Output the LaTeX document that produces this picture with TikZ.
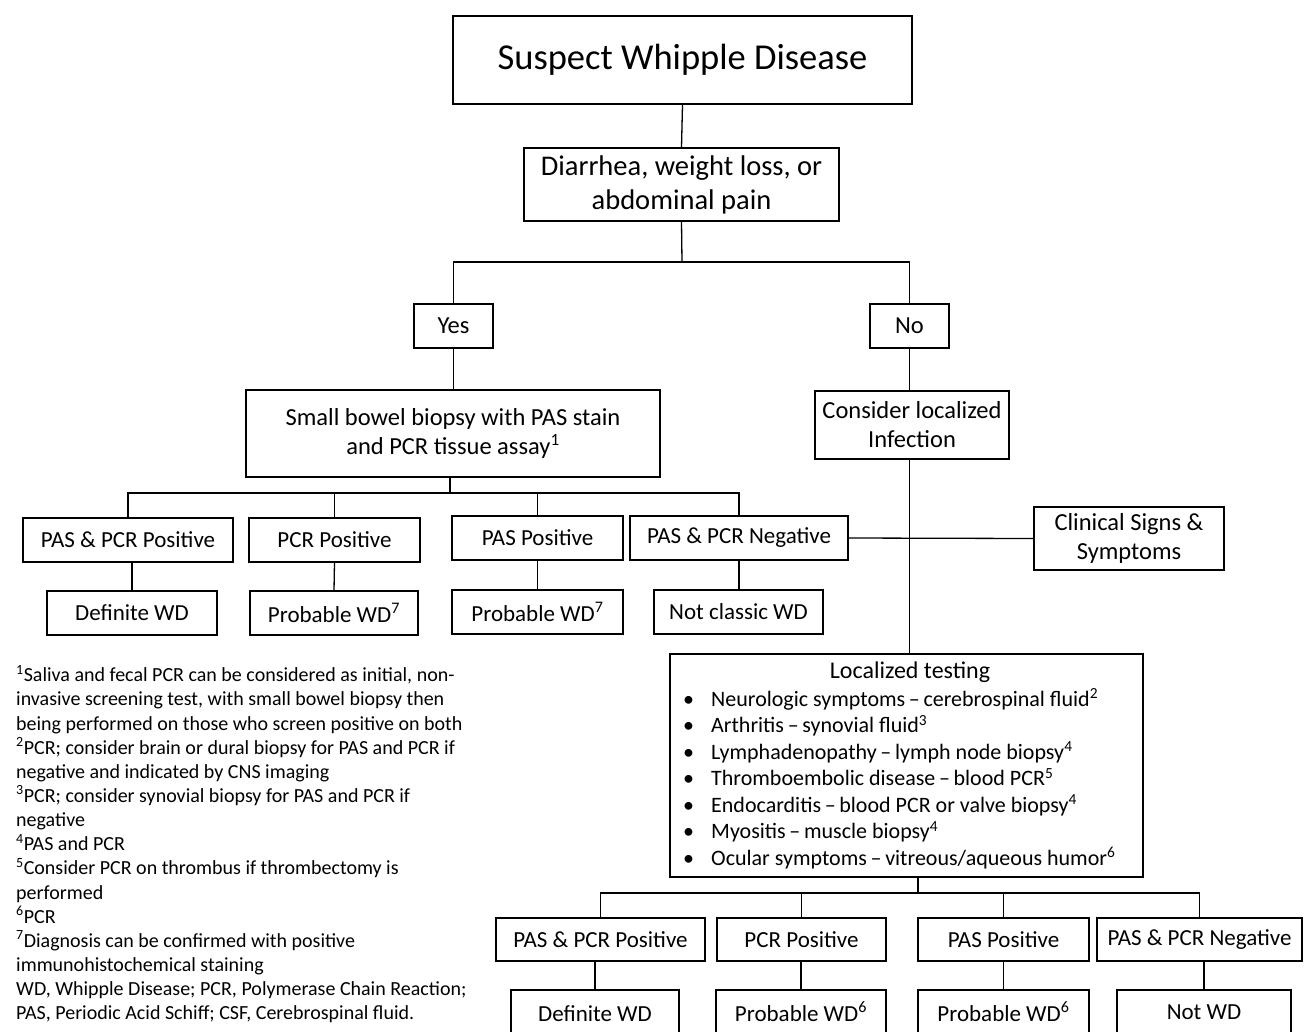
\documentclass[tikz,border=0pt]{standalone}
\usepackage{fontspec}
\setmainfont{Carlito}
\begin{document}
\begin{tikzpicture}[x=1pt,y=-1pt,
  box/.style={draw, line width=1.3pt, inner sep=0pt, align=center, font=\fontsize{23}{29}\selectfont},
  box2/.style={box, font=\fontsize{24.5}{29}\selectfont},
  lbl/.style={font=\fontsize{23}{26}\selectfont, inner sep=0pt},
  conn/.style={line width=1.3pt}]
\path[use as bounding box, clip] (0,0) rectangle (1304,1031);
\fill[white] (0,0) rectangle (1304,1031);
% top
\node[box, minimum width=459, minimum height=88, font=\fontsize{36.5}{40}\selectfont] (title) at (682.5,60) {Suspect Whipple Disease};
\node[box, minimum width=315, minimum height=73, font=\fontsize{28.5}{34}\selectfont] (diar) at (681.5,184.5) {Diarrhea, weight loss, or\\abdominal pain};
\node[box2, minimum width=79, minimum height=44] (yes) at (453.5,326) {Yes};
\node[box2, minimum width=79, minimum height=44] (no) at (909.5,326) {No};
\node[box2, minimum width=414, minimum height=87] (sb) at (453,433.5) {Small bowel biopsy with PAS stain\\and PCR tissue assay\textsuperscript{1}};
\node[box2, minimum width=194, minimum height=68] (cons) at (912,425) {Consider localized\\Infection};
% left branch
\node[box, minimum width=210, minimum height=44] (pp1) at (128,540) {PAS \& PCR Positive};
\node[box, minimum width=171, minimum height=44] (pcr1) at (334.5,540) {PCR Positive};
\node[box, minimum width=171, minimum height=44] (pas1) at (537.5,538) {PAS Positive};
\node[box, minimum width=218, minimum height=44] (neg1) at (739,538) {PAS \& PCR Negative};
\node[box, minimum width=170, minimum height=44] (def1) at (132,613) {Definite WD};
\node[box, minimum width=168, minimum height=44] (prob1) at (334,613) {Probable WD\textsuperscript{7}};
\node[box, minimum width=171, minimum height=44] (prob1b) at (537.5,612) {Probable WD\textsuperscript{7}};
\node[box, minimum width=169, minimum height=44] (notc) at (738.5,612) {Not classic WD};
\node[box2, minimum width=190, minimum height=63] (clin) at (1129,538.5) {Clinical Signs \&\\Symptoms};
% localized testing
\node[box, minimum width=473, minimum height=223] (loc) at (906.5,765.5) {};
\node[font=\fontsize{24}{26}\selectfont, inner sep=0pt, anchor=center] (loctitle) at (910,672) {Localized testing};
\node[font=\fontsize{22}{26.5}\selectfont, inner sep=0pt, anchor=north west, align=left] (loclist) at (683,688.5) {%
\makebox[28pt][l]{\textbullet}Neurologic symptoms\,–\,cerebrospinal fluid\textsuperscript{2}\\
\makebox[28pt][l]{\textbullet}Arthritis\,–\,synovial fluid\textsuperscript{3}\\
\makebox[28pt][l]{\textbullet}Lymphadenopathy\,–\,lymph node biopsy\textsuperscript{4}\\
\makebox[28pt][l]{\textbullet}Thromboembolic disease\,–\,blood PCR\textsuperscript{5}\\
\makebox[28pt][l]{\textbullet}Endocarditis\,–\,blood PCR or valve biopsy\textsuperscript{4}\\
\makebox[28pt][l]{\textbullet}Myositis\,–\,muscle biopsy\textsuperscript{4}\\
\makebox[28pt][l]{\textbullet}Ocular symptoms\,–\,vitreous/aqueous humor\textsuperscript{6}};
% right bottom
\node[box, minimum width=209, minimum height=43] (pp2) at (600.5,939.5) {PAS \& PCR Positive};
\node[box, minimum width=169, minimum height=43] (pcr2) at (801.5,939.5) {PCR Positive};
\node[box, minimum width=171, minimum height=43] (pas2) at (1003.5,939.5) {PAS Positive};
\node[box, minimum width=205, minimum height=43] (neg2) at (1199.5,939.5) {PAS \& PCR Negative};
\node[box, minimum width=168, minimum height=60] (def2) at (595,1020) {};
\node[box, minimum width=170, minimum height=60] (prob2) at (801,1020) {};
\node[box, minimum width=171, minimum height=60] (prob2b) at (1003.5,1020) {};
\node[box, minimum width=174, minimum height=60] (notwd) at (1204,1020) {};
\node[lbl] (def2t) at (595,1014) {Definite WD};
\node[lbl] (prob2t) at (801,1012) {Probable WD\textsuperscript{6}};
\node[lbl] (prob2bt) at (1003.5,1012) {Probable WD\textsuperscript{6}};
\node[lbl] (notwdt) at (1204,1012) {Not WD};
% footnotes
\node[font=\fontsize{20}{24.15}\selectfont, inner sep=0pt, anchor=north west, align=left] (notes) at (16,665) {%
\textsuperscript{1}Saliva and fecal PCR can be considered as initial, non-\\
invasive screening test, with small bowel biopsy then\\
being performed on those who screen positive on both\\
\textsuperscript{2}PCR; consider brain or dural biopsy for PAS and PCR if\\
negative and indicated by CNS imaging\\
\textsuperscript{3}PCR; consider synovial biopsy for PAS and PCR if\\
negative\\
\textsuperscript{4}PAS and PCR\\
\textsuperscript{5}Consider PCR on thrombus if thrombectomy is\\
performed\\
\textsuperscript{6}PCR\\
\textsuperscript{7}Diagnosis can be confirmed with positive\\
immunohistochemical staining\\
WD, Whipple Disease; PCR, Polymerase Chain Reaction;\\
PAS, Periodic Acid Schiff; CSF, Cerebrospinal fluid.};
% connectors
\coordinate (b0) at (682,262);
\coordinate (b1) at (450,493);
\coordinate (b2) at (918,893);
\draw[conn] (title.south) -- (diar.north);
\draw[conn] (diar.south) -- (b0);
\draw[conn] (yes.north) -- (yes.north |- b0) -- (no.north |- b0) -- (no.north);
\draw[conn] (yes.south) -- (sb.north -| yes.south);
\draw[conn] (no.south) -- (cons.north -| no.south);
\draw[conn] (sb.south -| b1) -- (b1);
\draw[conn] (pp1.north) -- (pp1.north |- b1) -- (neg1.north |- b1) -- (neg1.north);
\draw[conn] (pcr1.north) -- (pcr1.north |- b1);
\draw[conn] (pas1.north) -- (pas1.north |- b1);
\draw[conn] (pp1.south -| def1.north) -- (def1.north);
\draw[conn] (pcr1.south) -- (prob1.north);
\draw[conn] (pas1.south) -- (prob1b.north);
\draw[conn] (neg1.south) -- (notc.north -| neg1.south);
\draw[conn] (neg1.east) -- (clin.west);
\draw[conn] (cons.south -| no.south) -- (loc.north -| no.south);
\draw[conn] (loc.south -| b2) -- (b2);
\draw[conn] (pp2.north) -- (pp2.north |- b2) -- (neg2.north |- b2) -- (neg2.north);
\draw[conn] (pcr2.north) -- (pcr2.north |- b2);
\draw[conn] (pas2.north) -- (pas2.north |- b2);
\draw[conn] (pp2.south -| def2.north) -- (def2.north);
\draw[conn] (pcr2.south -| prob2.north) -- (prob2.north);
\draw[conn] (pas2.south) -- (prob2b.north);
\draw[conn] (neg2.south -| notwd.north) -- (notwd.north);
\end{tikzpicture}
\end{document}
